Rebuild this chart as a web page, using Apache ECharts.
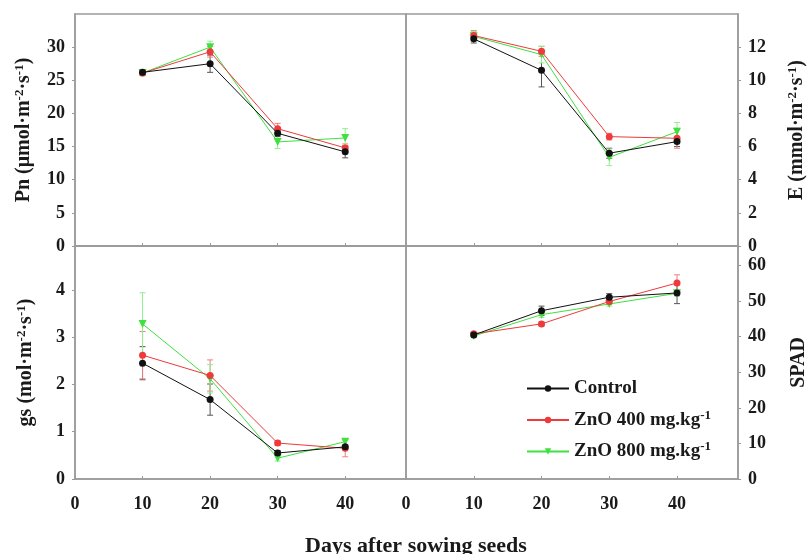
<!DOCTYPE html>
<html>
<head>
<meta charset="utf-8">
<script src="https://cdn.jsdelivr.net/npm/echarts@6/dist/echarts.min.js"></script>
<style>html,body{margin:0;padding:0;background:#fff}#c{width:811px;height:554px}</style>
</head>
<body>
<div id="c"></div>
<script>
// ---- data ----
const days = [10, 20, 30, 40];
const seriesNames = ['Control', 'ZnO 400 mg.kg', 'ZnO 800 mg.kg'];
const xTicks = [0, 10, 20, 30, 40];

const pnControl = [26.2, 27.5, 17.0, 14.2];
const pnControlErr = [0.4, 1.3, 0.5, 0.9];
const pnZn400 = [26.1, 29.3, 17.7, 14.8];
const pnZn400Err = [0.4, 0.8, 0.8, 0.6];
const pnZn800 = [26.1, 30.0, 15.7, 16.3];
const pnZn800Err = [0.4, 0.9, 1.0, 1.4];

const eControl = [12.5, 10.6, 5.6, 6.3];
const eControlErr = [0.25, 1.0, 0.3, 0.3];
const eZn400 = [12.7, 11.75, 6.6, 6.5];
const eZn400Err = [0.3, 0.3, 0.2, 0.6];
const eZn800 = [12.65, 11.55, 5.35, 6.9];
const eZn800Err = [0.3, 0.5, 0.5, 0.55];

const gsControl = [2.45, 1.68, 0.55, 0.68];
const gsControlErr = [0.35, 0.33, 0.05, 0.05];
const gsZn400 = [2.62, 2.19, 0.76, 0.65];
const gsZn400Err = [0.5, 0.33, 0.05, 0.18];
const gsZn800 = [3.28, 2.12, 0.44, 0.79];
const gsZn800Err = [0.66, 0.3, 0.06, 0.06];

const spadControl = [40.5, 47.3, 51.1, 52.3];
const spadControlErr = [0.5, 1.3, 1.0, 3.0];
const spadZn400 = [40.8, 43.6, 49.9, 55.1];
const spadZn400Err = [0.5, 0.6, 0.8, 2.3];
const spadZn800 = [40.2, 46.2, 49.2, 52.2];
const spadZn800Err = [0.5, 0.8, 0.6, 0.8];

// ---- styles ----
const FONT = '"Liberation Serif", "Times New Roman", serif';
const AX = '#9a9a9a';
const TXT = '#1a1a1a';
const lineColors = ['#111111', '#ee3a3a', '#3fe03f'];
const errColors = ['#555555', '#f07f7f', '#8ff08f'];
const symbols = ['circle', 'circle', 'triangle'];
const symbolRot = [0, 0, 180];

const grids = [
  {left: 75, top: 14, width: 331, height: 232},
  {left: 406, top: 14, width: 332, height: 232},
  {left: 75, top: 246, width: 331, height: 233},
  {left: 406, top: 246, width: 332, height: 233}
];

const sup = {fontSize: 13, fontWeight: 'bold', fontFamily: FONT, color: TXT, verticalAlign: 'top', lineHeight: 22};
const nameStyle = {fontSize: 20, fontWeight: 'bold', fontFamily: FONT, color: TXT, rich: {sup: sup, n: {fontSize: 20, fontWeight: 'bold', fontFamily: FONT, color: TXT, lineHeight: 22}}};
const labelStyle = {fontSize: 18, fontWeight: 'bold', fontFamily: FONT, color: TXT};

function xAxis(gi, showLabels) {
  return {
    type: 'value', gridIndex: gi, min: 0, max: 49, interval: 10,
    axisLine: {show: true, lineStyle: {color: AX, width: 1.5}},
    axisTick: {show: true, inside: true, length: 3, lineStyle: {color: AX}},
    axisLabel: Object.assign({show: showLabels, margin: 16, showMaxLabel: false}, labelStyle),
    splitLine: {show: false}
  };
}
function yAxis(gi, pos, max, interval, name, gap) {
  return {
    type: 'value', gridIndex: gi, position: pos, min: 0, max: max, interval: interval,
    axisLine: {show: true, onZero: false, lineStyle: {color: AX, width: 1.5}},
    axisTick: {show: true, length: 3, lineStyle: {color: AX}},
    axisLabel: Object.assign({margin: 10, showMaxLabel: false}, labelStyle),
    splitLine: {show: false},
    name: name, nameLocation: 'middle', nameGap: gap, nameRotate: 90,
    nameTextStyle: nameStyle
  };
}

const panels = [
  [pnControl, pnZn400, pnZn800],
  [eControl, eZn400, eZn800],
  [gsControl, gsZn400, gsZn800],
  [spadControl, spadZn400, spadZn800]
];
const panelErrs = [
  [pnControlErr, pnZn400Err, pnZn800Err],
  [eControlErr, eZn400Err, eZn800Err],
  [gsControlErr, gsZn400Err, gsZn800Err],
  [spadControlErr, spadZn400Err, spadZn800Err]
];

const series = [];
panels.forEach((vals, p) => {
  vals.forEach((v, s) => {
    const errs = panelErrs[p][s];
    series.push({
      type: 'custom', xAxisIndex: p, yAxisIndex: p, silent: true, z: 1,
      data: days.map((d, i) => [d, v[i] - errs[i], v[i] + errs[i]]),
      encode: {x: 0, y: [1, 2]},
      renderItem: (params, api) => {
        const lo = api.coord([api.value(0), api.value(1)]);
        const hi = api.coord([api.value(0), api.value(2)]);
        const w = 3;
        const st = {stroke: errColors[s], lineWidth: 1};
        return {type: 'group', children: [
          {type: 'line', shape: {x1: lo[0], y1: lo[1], x2: hi[0], y2: hi[1]}, style: st},
          {type: 'line', shape: {x1: lo[0] - w, y1: lo[1], x2: lo[0] + w, y2: lo[1]}, style: st},
          {type: 'line', shape: {x1: hi[0] - w, y1: hi[1], x2: hi[0] + w, y2: hi[1]}, style: st}
        ]};
      }
    });
  });
});
panels.forEach((vals, p) => {
  vals.forEach((v, s) => {
    series.push({
      type: 'line', name: seriesNames[s], xAxisIndex: p, yAxisIndex: p, z: 3 - s + 2,
      data: days.map((d, i) => [d, v[i]]),
      symbol: symbols[s], symbolRotate: symbolRot[s], symbolSize: s === 2 ? 8 : 7,
      itemStyle: {color: lineColors[s]},
      lineStyle: {color: lineColors[s], width: 1},
      animation: false
    });
  });
});

const option = {
  animation: false,
  backgroundColor: '#fff',
  grid: grids.map(g => Object.assign({show: true, borderColor: AX, borderWidth: 1.5, containLabel: false}, g)),
  xAxis: [xAxis(0, false), xAxis(1, false), xAxis(2, true), xAxis(3, true)],
  yAxis: [
    yAxis(0, 'left', 35, 5, '{n|Pn (μmol·m}{sup|-2}{n|·s}{sup|-1}{n|)}', 40),
    yAxis(1, 'right', 14, 2, '{n|E (mmol·m}{sup|-2}{n|·s}{sup|-1}{n|)}', 48),
    yAxis(2, 'left', 4.93, 1, '{n|gs (mol·m}{sup|-2}{n|·s}{sup|-1}{n|)}', 38),
    yAxis(3, 'right', 65.5, 10, '{n|SPAD}', 50)
  ],
  legend: {
    orient: 'vertical', left: 521, top: 374,
    data: seriesNames,
    itemWidth: 42, itemHeight: 8, itemGap: 11,
    formatter: n => n === 'Control' ? '{n|Control}' : '{n|' + n + '}{sup|-1}',
    textStyle: {fontSize: 19, fontWeight: 'bold', fontFamily: FONT, color: TXT,
      rich: {n: {fontSize: 19, fontWeight: 'bold', fontFamily: FONT, color: TXT, lineHeight: 22}, sup: sup}}
  },
  title: {
    text: 'Days after sowing seeds', left: 300, top: 530,
    textStyle: {fontSize: 22, fontWeight: 'bold', fontFamily: FONT, color: TXT}
  },
  series: series
};
echarts.init(document.getElementById('c')).setOption(option);
</script>
</body>
</html>
